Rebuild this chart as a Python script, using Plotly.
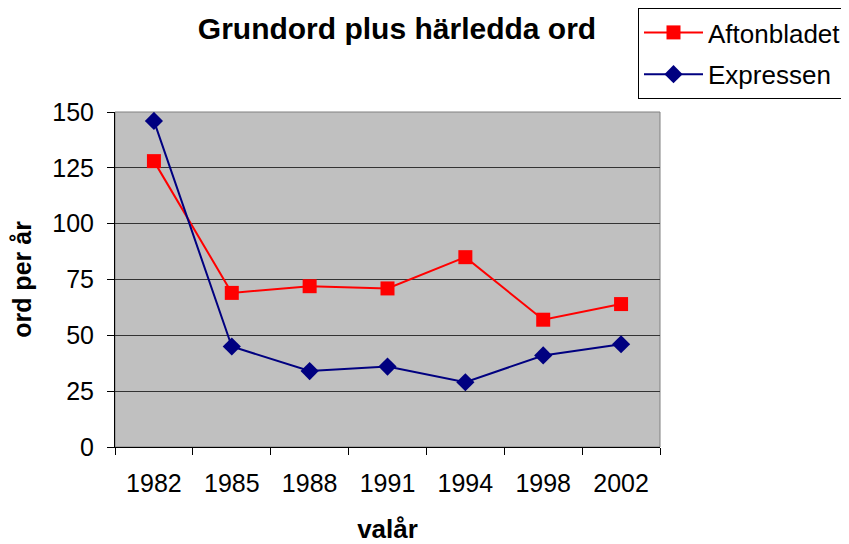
import plotly.graph_objects as go

years = ["1982", "1985", "1988", "1991", "1994", "1998", "2002"]
aftonbladet = [128, 69, 72, 71, 85, 57, 64]
expressen = [146, 45, 34, 36, 29, 41, 46]
y_ticks = [0, 25, 50, 75, 100, 125, 150]

font = "Liberation Sans, Arial, sans-serif"

# page body has an 8px margin; figure coordinates are page coordinates minus 8
W, H = 841, 536
L, R, T, B = 107, 189, 104, 97

fig = go.Figure()
fig.add_trace(go.Scatter(
    x=years, y=aftonbladet, name="Aftonbladet", mode="lines+markers",
    legendgroup="a",
    line=dict(color="#FF0000", width=2),
    marker=dict(symbol="square", size=14, color="#FF0000"),
))
fig.add_trace(go.Scatter(
    x=years, y=expressen, name="Expressen", mode="lines+markers",
    legendgroup="b",
    line=dict(color="#000080", width=2),
    marker=dict(symbol="diamond", size=14, color="#000080"),
))

fig.update_layout(
    width=W, height=H,
    margin=dict(l=L, r=R, t=T, b=B, autoexpand=False),
    paper_bgcolor="white",
    plot_bgcolor="#C0C0C0",
    font=dict(family=font, size=25, color="black"),
    title=dict(text="<b>Grundord plus härledda ord</b>", x=389/W, xanchor="center",
               y=1 - 20/H, yanchor="middle", font=dict(size=30, family=font)),
    legend=dict(xref="container", yref="container",
                x=630/W, xanchor="left", y=1 - 0/H, yanchor="top",
                bgcolor="white", bordercolor="black", borderwidth=1,
                itemwidth=59,
                font=dict(size=26, family=font), tracegroupgap=5),
    showlegend=True,
)
fig.update_xaxes(
    type="category", range=[-0.5, 6.5], tickson="boundaries",
    ticks="outside", ticklen=7, tickcolor="black",
    showline=True, linecolor="black", linewidth=1,
    showgrid=False, ticklabelstandoff=14,
    title=dict(text="<b>valår</b>", font=dict(size=26), standoff=26),
    tickfont=dict(size=25),
)
fig.update_yaxes(
    range=[0, 150], tickvals=y_ticks,
    ticks="outside", ticklen=7, tickcolor="black",
    showline=True, linecolor="black", linewidth=1,
    showgrid=True, gridcolor="#333333", gridwidth=1,
    zeroline=False, ticklabelstandoff=8,
    title=dict(text="<b>ord per år</b>", font=dict(size=25), standoff=18),
    tickfont=dict(size=25),
)
fig.add_shape(type="rect", xref="paper", yref="paper", x0=0, x1=1, y0=0, y1=1,
              line=dict(color="#808080", width=1), layer="below")

fig.write_html("out.html")
